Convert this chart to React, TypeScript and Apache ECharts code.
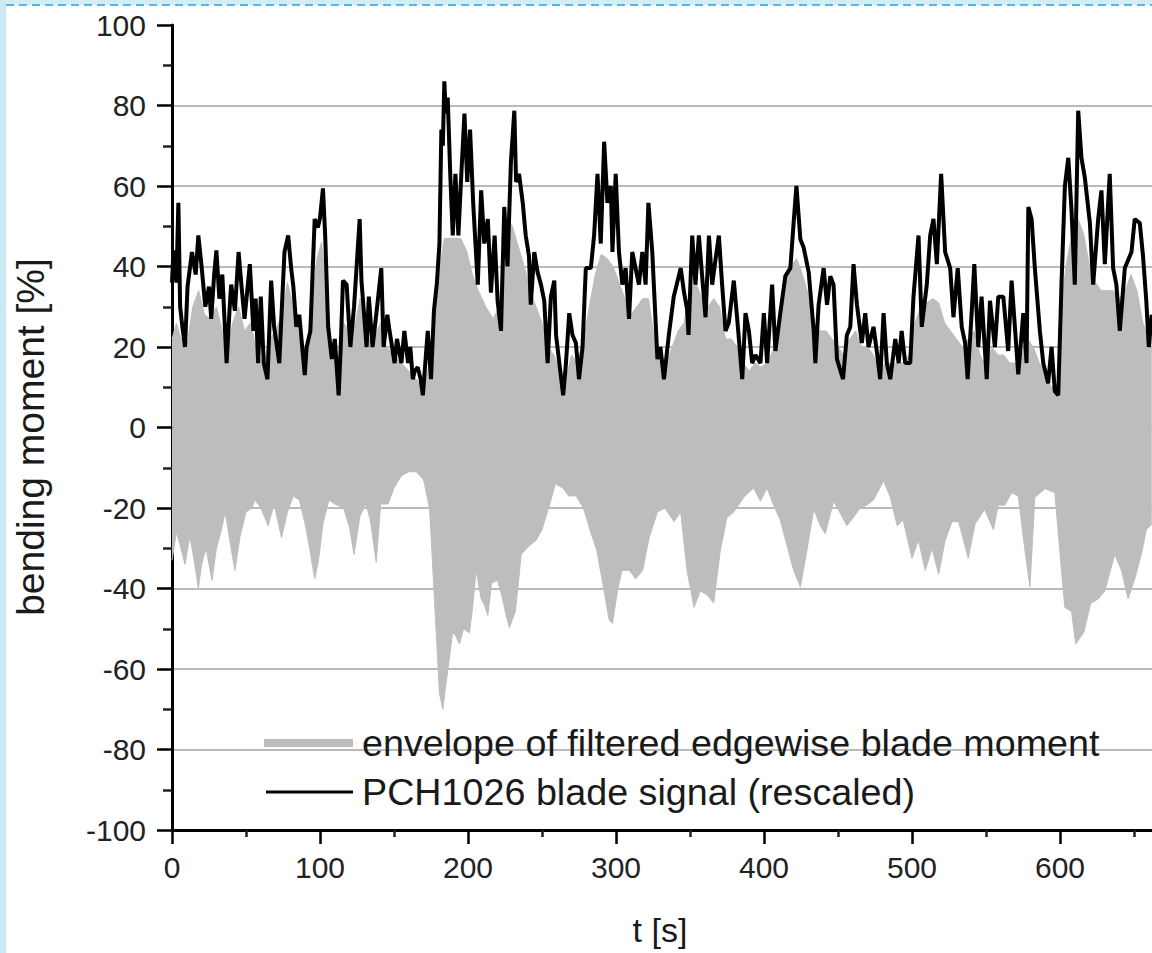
import React, { useEffect, useRef } from "react";
import * as echarts from "echarts";

// ---- axis setup ----
const X_MIN = 0;
const X_MAX = 700;
const X_INTERVAL = 100;
const Y_MIN = -100;
const Y_MAX = 100;
const Y_INTERVAL = 20;

const X_TITLE = "t [s]";
const Y_TITLE = "bending moment [%]";
const LEGEND_LABELS = [
  "envelope of filtered edgewise blade moment",
  "PCH1026 blade signal (rescaled)",
];

// ---- PCH1026 blade signal (rescaled) ----
const signalT = [
  0, 1, 3, 4.3, 5.5, 7, 8.8, 10.5, 13.5, 16, 17.8, 20, 22.5, 25, 26.5, 28.5, 30, 32, 34, 36.9,
  39, 40, 42.5, 45, 47, 49, 52.6, 55, 56.5, 58.2, 60, 62, 64.5, 67, 69, 72.5, 74, 76, 78.5, 80.5,
  82, 84, 86, 89.7, 91, 93.5, 96.4, 98.5, 100, 102, 103.5, 105.5, 108, 110, 112.6, 114, 115.5, 118, 120.5, 123,
  126.8, 128, 131.5, 133, 135.5, 138, 141.4, 143, 145.5, 147, 150.4, 152, 155, 157, 159.5, 161, 162.7,
  164, 166, 168, 169.5, 172.8, 175, 177, 179, 180.7, 182, 183, 184, 185, 186.3, 188, 189.7, 191.5, 193.5,
  195.5, 197.6, 199.5, 201.4, 203.5, 206.6, 208.9, 211, 213.4, 215.5, 218, 220, 222.3, 224.5, 226.7, 229, 231.3,
  232.5, 234.5, 237, 239, 241.2, 242.4, 244.8, 247, 249.3, 251.5, 253.8, 256, 258.3, 259.5, 261.7, 264.3,
  266.2, 268.4, 270.6, 272.9, 275, 277.4, 279.6, 283, 285.2, 287.5, 289.7, 292, 294.2, 296.5, 297.6, 299.8,
  302, 304.3, 306.5, 308.8, 311, 315.5, 317.8, 320, 321.9, 324.5, 328,
  330, 332.4, 335.7, 339, 343.7, 346, 348, 349, 351.5, 353.7, 356, 358.2, 360.5, 362.8, 365, 367.2, 369.5,
  371.7, 374, 376.2, 379.6, 381.8, 385.3, 387.5, 389.8, 392, 394.3, 397.6, 399.9, 402.1, 405.5, 407.7, 411,
  414.4, 417.8, 420, 421.9, 424.6, 426.8, 430.2, 433.6, 434.7, 436.9, 440.3, 442.6, 444.8, 447, 449.3, 453.4,
  456, 458.3, 460.5, 462.8, 466.1, 468.4, 470.6, 474, 476.2, 478.5, 480.8, 483, 485.3, 488.7, 491, 493, 495.4,
  498.8, 501, 504.4, 506.6, 510, 512.3, 514.5, 516.8, 519.7, 522.4, 525.8, 528, 530.9, 533.6, 535.9, 537.6,
  540.3, 542.1, 544.8, 547, 550.5, 552.7, 556, 558.3, 561.7, 565, 567.3, 571.8, 575.2, 577.4, 578.6, 580.8,
  583, 586.4, 588.7, 592, 594.3, 596.5, 598.8, 601, 603.3, 605.6, 607.8, 610, 612.3, 614.5, 616.8, 620.2,
  622.4, 625.8, 628, 630.3, 633.6, 635.9, 638.1, 640.4, 643.8, 648.3, 650.5, 653.9, 656.1, 658.3, 660, 662,
];
const signalV = [
  36, 44, 36, 55.8, 30, 25, 20, 35, 43.6, 38, 47.7, 40, 30, 35, 27, 38, 44, 32, 38, 16,
  30, 35.5, 29, 43.6, 35, 27, 40.6, 24, 32, 16, 32.5, 16, 12, 36.5, 25, 16, 28, 43.6, 47.7, 39.6,
  35, 25, 28, 13, 20, 24, 51.8, 49.7, 52, 59.4, 47.7, 25, 17, 22, 8, 20, 36.5, 35.5, 20, 30,
  51.8, 36.5, 20, 32.5, 20, 28, 39.6, 20, 28, 24, 16, 22, 16, 24, 16, 20, 12,
  14, 15, 12, 8, 24, 12, 29, 36, 45.7, 74, 70, 86, 78, 82, 63, 47.7, 63, 47.7,
  63, 78, 61, 74, 55.8, 35.5, 58.9, 45.7, 51.8, 33.5, 47.7, 31.5, 24, 54.8, 40, 66, 78.7,
  61, 63, 55.8, 47.7, 42.6, 30.5, 43.6, 38.6, 35.5, 31.5, 16, 32.5, 36.5, 23, 16, 8,
  16, 28.4, 23, 21, 12, 20, 39.6, 39.6, 47.7, 63, 45.7, 71, 55.8, 60, 43.6, 63,
  43.6, 35.5, 39.6, 27, 43.6, 35.5, 43.6, 35.5, 55.8, 43.6, 17,
  20, 12, 23, 32.5, 39.6, 33.5, 29.4, 23, 47.7, 35.5, 47.7, 37.6, 27.4, 47.7, 35.5, 41.6, 47.7,
  35.5, 24, 26, 36.5, 27.4, 12, 28.4, 24, 16, 18, 16, 28.4, 16, 35.5, 19, 28.4,
  37.6, 39.6, 50.8, 60, 46.7, 44.7, 38.6, 24, 16, 30.5, 39.6, 30.5, 37.6, 35.5, 17, 12,
  23, 25, 40.6, 30.5, 21, 28.4, 20, 25, 19, 12, 28.4, 16, 12, 22, 16, 24, 16,
  16, 32.5, 47.7, 25, 35.5, 47.7, 51.8, 40.6, 63, 43.6, 39.6, 27.4, 39.6, 25, 21, 12,
  28.4, 40.6, 20, 32.5, 12, 31.5, 20, 32.5, 32.5, 19, 36.5, 13.2, 28.4, 16, 54.8, 51.8,
  39.6, 24, 16, 11, 20, 9, 8, 35.5, 60, 67, 53.8, 35.5, 78.7, 67, 62, 50.8,
  35.5, 51.8, 58.9, 40.6, 63, 39.6, 35.5, 24, 39.6, 43.6, 51.8, 50.8, 42.6, 31.5, 20, 28,
];

// ---- envelope of filtered edgewise blade moment: upper edge ----
const upperT = [
  0, 3, 6, 10, 14, 18, 22, 26, 30, 34, 37, 41, 45, 49, 53, 58, 62, 66, 70, 74,
  78, 82, 86, 90, 94, 98, 101, 104, 108, 112, 116, 120, 124, 127, 131, 136, 141, 145, 150, 155,
  160, 165, 170, 174, 178, 181, 184, 190, 195, 199, 203, 207, 212, 217, 221, 224, 226, 230, 234, 238,
  242, 246, 250, 254, 258, 262, 266, 270, 274, 278, 282, 286, 290, 294, 298, 302, 306, 310, 314, 318,
  322, 326, 330, 334, 338, 342, 346, 350, 354, 358, 362, 366, 370, 374, 378, 382, 386, 390, 394, 398,
  402, 406, 410, 414, 418, 422, 426, 430, 434, 438, 442, 446, 450, 454, 458, 462, 466, 470, 474, 478,
  482, 486, 490, 494, 498, 502, 506, 510, 514, 518, 522, 526, 530, 534, 538, 542, 546, 550, 554, 558,
  562, 566, 570, 574, 578, 582, 586, 590, 594, 598, 601, 604, 608, 612, 616, 620, 624, 628, 632, 636,
  640, 644, 648, 652, 656, 660, 662,
];
const upperV = [
  22, 26, 22, 20, 30, 34, 28, 27, 30, 24, 18, 26, 30, 24, 26, 18, 16, 22, 24, 28,
  36, 30, 22, 16, 30, 42, 46, 36, 20, 14, 26, 24, 26, 32, 22, 22, 26, 20, 18, 16,
  14, 12, 10, 16, 28, 40, 47, 47, 47, 44, 38, 34, 30, 27, 30, 44, 52, 50, 45, 40,
  34, 30, 26, 20, 18, 14, 12, 18, 16, 22, 30, 38, 43, 42, 40, 36, 32, 28, 30, 32,
  32, 22, 18, 16, 20, 24, 26, 34, 36, 32, 30, 32, 30, 22, 22, 20, 16, 14, 16, 15,
  16, 19, 24, 36, 40, 42, 38, 33, 26, 24, 24, 22, 20, 18, 22, 24, 20, 20, 18, 14,
  16, 16, 16, 16, 18, 26, 30, 31, 32, 31, 26, 24, 22, 20, 22, 24, 18, 15, 20, 18,
  18, 16, 16, 18, 22, 20, 16, 14, 10, 10, 30, 40, 48, 52, 48, 40, 36, 34, 34, 34,
  32, 34, 38, 34, 26, 22, 22,
];

// ---- envelope of filtered edgewise blade moment: lower edge ----
const lowerT = [
  0, 3, 6, 8.8, 12, 15, 17.8, 20, 23, 27, 30, 33, 36, 39, 42.5, 46, 50, 54, 56, 60,
  65, 69, 74, 78, 82, 86, 90, 93, 96.4, 99, 102, 106, 110, 116, 120, 123, 127, 131, 134, 138,
  141, 146, 150, 155, 160, 165, 170, 174, 176.3, 178.5, 180.7, 183, 185, 187.5, 189.7, 192, 194.2, 197, 201, 203,
  205.5, 208.9, 211, 213.4, 216, 220, 223, 226, 228, 232, 236, 241.4, 246, 250, 255, 259, 264, 268, 273, 278,
  282.4, 287, 291, 295.3, 297.6, 301, 304, 309, 313.3, 318, 322.4, 328, 333, 339.2, 343.7, 348, 352.7, 357, 361.5, 366,
  370.5, 375, 379.6, 386.4, 393, 397.6, 402, 406.5, 411, 415.6, 420, 424.6, 429, 433.6, 438, 441.4, 447, 451.5, 456, 460.5,
  465, 469.3, 474, 480.8, 485.3, 490, 494, 495.5, 500, 504.4, 509, 513.5, 518, 522.4, 527, 531.5, 538, 542.6, 549, 555,
  558.3, 562.8, 567.3, 571.8, 576.3, 579.7, 583, 590, 596.5, 601, 603.3, 607.8, 610.6, 616.2, 620.7, 625.8, 630.3, 637, 641.5, 646,
  650.5, 655, 658.3, 662,
];
const lowerV = [
  -33, -26, -30, -34, -27, -33, -40, -34, -30, -38, -30, -26, -21, -28, -35.5, -27, -21, -20, -18, -20,
  -24.4, -19, -27.4, -21, -17, -18, -24, -30, -37.6, -33, -24, -18, -19, -20, -25, -31.5, -22, -19, -23, -33.5,
  -19, -19, -15, -12, -11, -11, -13, -20, -35.5, -50.8, -66, -70, -64, -57, -50.8, -52, -53.8, -50, -51, -45,
  -35.5, -42.6, -44, -46.7, -38.6, -38, -42, -47, -49.7, -45.7, -31.5, -29.4, -28, -25.4, -19.3, -14, -15, -17, -17, -20,
  -25.4, -30.5, -38.6, -47.7, -48.7, -40.6, -35.5, -35.5, -37.6, -35.5, -27.4, -21, -20, -23.4, -21, -35.5, -44.7, -40.6, -41.6, -43.6,
  -30.5, -22.3, -21, -17.3, -15, -18.3, -15, -19.3, -23, -29.4, -35.5, -39.6, -30.5, -20.3, -24.4, -26.4, -18.3, -21.3, -24.4, -22.3,
  -20, -19.3, -18, -13.2, -17.3, -24.4, -23, -25.4, -32.5, -28, -35.5, -30, -36.5, -28, -23.4, -23.4, -32.5, -24, -20.3, -25.4,
  -19.3, -19.3, -16.2, -17, -30.5, -39.6, -17.3, -15.2, -16.2, -35.5, -44.7, -45.7, -53.8, -50.8, -43.7, -42.6, -40.6, -31.5, -35.5, -42.6,
  -37.6, -31.5, -25.4, -24,
];

const GRAY = "#bdbdbd";
const FONT = "'Liberation Sans', Arial, Helvetica, sans-serif";

function pairs(ts: number[], vs: number[]) {
  return ts.map((t, i) => [t, vs[i]]);
}

export default function App() {
  const ref = useRef<HTMLDivElement>(null);

  useEffect(() => {
    document.body.style.margin = "0";
    if (!ref.current) return;
    const chart = echarts.init(ref.current, undefined, { renderer: "svg" });

    const nLines = (Y_MAX - Y_MIN) / Y_INTERVAL + 1;
    const splitColors = Array.from({ length: nLines }, (_, i) =>
      i === nLines - 1 ? "rgba(0,0,0,0)" : "#a3a3a3"
    );

    chart.setOption({
      animation: false,
      backgroundColor: "#ffffff",
      grid: {
        left: 172,
        top: 25,
        width: 1036,
        height: 805,
        containLabel: false,
        outerBoundsMode: "none",
      },
      xAxis: {
        type: "value",
        min: X_MIN,
        max: X_MAX,
        interval: X_INTERVAL,
        axisLine: { onZero: false, lineStyle: { color: "#000", width: 3 } },
        axisTick: { show: true, length: 14, lineStyle: { color: "#000", width: 2.5 } },
        minorTick: { show: true, splitNumber: 2, length: 7, lineStyle: { color: "#222", width: 2.5 } },
        axisLabel: {
          fontSize: 30,
          margin: 22,
          color: "#222",
          fontFamily: FONT,
          showMaxLabel: false,
          formatter: (v: number) => (v >= X_MAX ? "" : String(v)),
        },
        splitLine: { show: false },
      },
      yAxis: {
        type: "value",
        min: Y_MIN,
        max: Y_MAX,
        interval: Y_INTERVAL,
        axisLine: { show: true, onZero: false, lineStyle: { color: "#000", width: 3 } },
        axisTick: { show: true, length: 15, lineStyle: { color: "#000", width: 2.5 } },
        minorTick: { show: true, splitNumber: 2, length: 9, lineStyle: { color: "#222", width: 2.5 } },
        axisLabel: { fontSize: 30, margin: 26, color: "#222", fontFamily: FONT },
        splitLine: { show: true, lineStyle: { color: splitColors, width: 1.5 } },
      },
      series: [
        {
          name: LEGEND_LABELS[0],
          type: "line",
          data: pairs(upperT, upperV),
          symbol: "none",
          lineStyle: { color: GRAY, width: 1 },
          areaStyle: { color: GRAY, opacity: 1 },
          z: 1,
          silent: true,
        },
        {
          name: LEGEND_LABELS[0] + " (lower)",
          type: "line",
          data: pairs(lowerT, lowerV),
          symbol: "none",
          lineStyle: { color: GRAY, width: 1 },
          areaStyle: { color: GRAY, opacity: 1 },
          z: 1,
          silent: true,
        },
        {
          name: LEGEND_LABELS[1],
          type: "line",
          data: pairs(signalT, signalV),
          symbol: "none",
          lineStyle: { color: "#000", width: 4 },
          z: 3,
          silent: true,
        },
      ],
      graphic: [
        { type: "rect", shape: { x: 0, y: 0, width: 1152, height: 5 }, style: { fill: "#d3ecf8" }, z: 100 },
        { type: "rect", shape: { x: 0, y: 0, width: 6, height: 953 }, style: { fill: "#cde9f6" }, z: 100 },
        {
          type: "line",
          shape: { x1: 6, y1: 5, x2: 1152, y2: 5 },
          style: { stroke: "#4fb9e9", lineWidth: 2, lineDash: [8, 5] },
          z: 101,
        },
        {
          type: "line",
          shape: { x1: 264, y1: 743, x2: 353, y2: 743 },
          style: { stroke: GRAY, lineWidth: 8 },
          z: 50,
        },
        {
          type: "text",
          x: 362,
          y: 743,
          style: {
            text: LEGEND_LABELS[0],
            font: `37.7px ${FONT}`,
            fill: "#1a1a1a",
            textAlign: "left",
            textVerticalAlign: "middle",
          },
          z: 50,
        },
        {
          type: "line",
          shape: { x1: 266, y1: 792, x2: 353, y2: 792 },
          style: { stroke: "#000", lineWidth: 3 },
          z: 50,
        },
        {
          type: "text",
          x: 362,
          y: 792,
          style: {
            text: LEGEND_LABELS[1],
            font: `37.7px ${FONT}`,
            fill: "#1a1a1a",
            textAlign: "left",
            textVerticalAlign: "middle",
          },
          z: 50,
        },
        {
          type: "text",
          x: 660,
          y: 930,
          style: {
            text: X_TITLE,
            font: `34px ${FONT}`,
            fill: "#1a1a1a",
            textAlign: "center",
            textVerticalAlign: "middle",
          },
          z: 50,
        },
        {
          type: "text",
          x: 30,
          y: 437,
          rotation: Math.PI / 2,
          style: {
            text: Y_TITLE,
            font: `39px ${FONT}`,
            fill: "#1a1a1a",
            textAlign: "center",
            textVerticalAlign: "middle",
          },
          z: 50,
        },
      ],
    });

    return () => chart.dispose();
  }, []);

  return <div ref={ref} style={{ width: 1152, height: 953 }} />;
}
